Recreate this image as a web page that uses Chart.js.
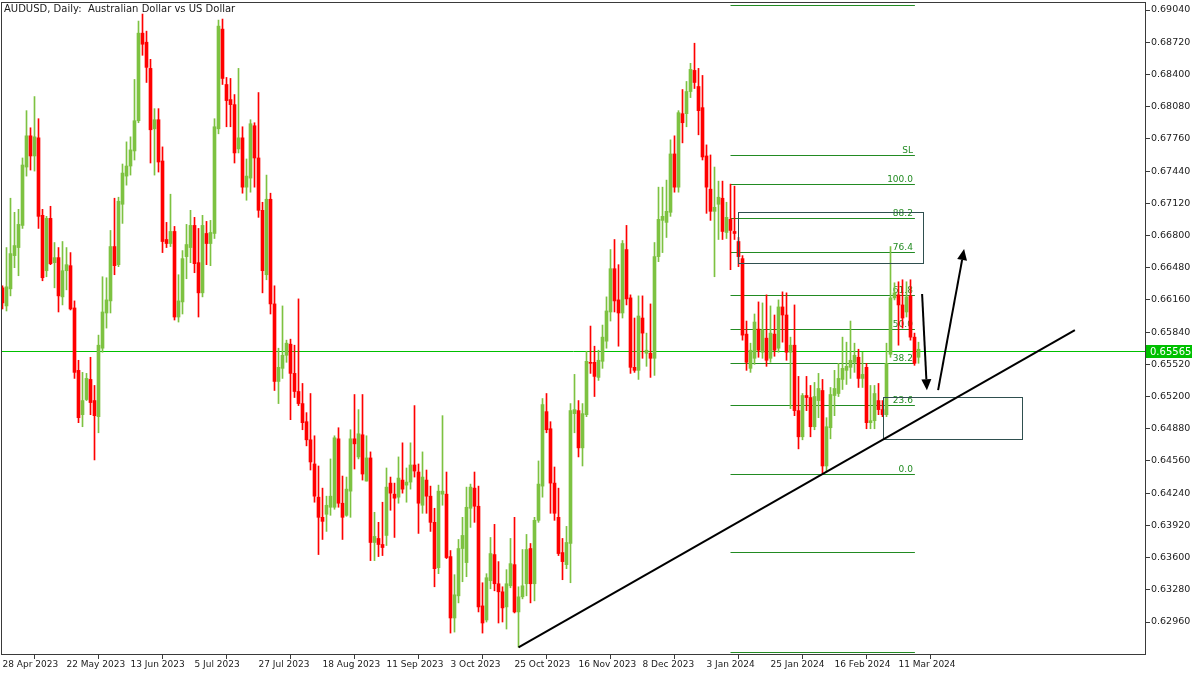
<!DOCTYPE html>
<html><head><meta charset="utf-8">
<script src="https://cdn.jsdelivr.net/npm/chart.js@4.4.1/dist/chart.umd.min.js"></script>
<style>html,body{margin:0;padding:0;background:#fff;overflow:hidden}canvas{display:block}</style>
</head><body>
<canvas id="c" width="1200" height="675"></canvas>
<script>
// ---- candle data (AUDUSD daily, bar 0 = 28 Apr 2023) ----
const opens = [
0.6628,0.6610,0.6627,0.6660,0.6668,0.6690,0.6748,0.6779,0.6759,0.6777,
0.6700,0.6645,0.6697,0.6653,0.6658,0.6619,0.6645,0.6650,0.6608,0.6546,
0.6502,0.6517,0.6537,0.6516,0.6500,0.6568,0.6603,0.6615,0.6669,0.6651,
0.6711,0.6739,0.6749,0.6764,0.6794,0.6881,0.6872,0.6846,0.6786,0.6795,
0.6754,0.6676,0.6672,0.6684,0.6599,0.6614,0.6659,0.6668,0.6690,0.6653,
0.6623,0.6682,0.6672,0.6682,0.6786,0.6885,0.6830,0.6815,0.6810,0.6766,
0.6777,0.6728,0.6737,0.6789,0.6757,0.6705,0.6641,0.6716,0.6612,0.6535,
0.6548,0.6561,0.6572,0.6543,0.6525,0.6513,0.6495,0.6477,0.6453,0.6420,
0.6400,0.6403,0.6410,0.6410,0.6478,0.6414,0.6402,0.6426,0.6478,0.6460,
0.6482,0.6436,0.6459,0.6375,0.6379,0.6373,0.6382,0.6434,0.6423,0.6420,
0.6437,0.6432,0.6435,0.6452,0.6445,0.6412,0.6437,0.6421,0.6395,0.6350,
0.6423,0.6423,0.6361,0.6300,0.6322,0.6369,0.6355,0.6409,0.6429,0.6411,
0.6312,0.6298,0.6337,0.6363,0.6334,0.6326,0.6311,0.6332,0.6353,0.6306,
0.6321,0.6334,0.6369,0.6334,0.6397,0.6431,0.6505,0.6488,0.6434,0.6400,
0.6365,0.6353,0.6374,0.6503,0.6506,0.6469,0.6502,0.6554,0.6554,0.6539,
0.6555,0.6575,0.6604,0.6647,0.6616,0.6603,0.6666,0.6618,0.6549,0.6546,
0.6598,0.6563,0.6563,0.6558,0.6659,0.6695,0.6693,0.6703,0.6761,0.6728,
0.6801,0.6801,0.6823,0.6844,0.6828,0.6807,0.6759,0.6726,0.6704,0.6711,
0.6717,0.6683,0.6696,0.6684,0.6674,0.6657,0.6582,0.6548,0.6558,0.6587,
0.6564,0.6578,0.6558,0.6582,0.6568,0.6609,0.6601,0.6564,0.6571,0.6506,
0.6480,0.6521,0.6519,0.6490,0.6516,0.6526,0.6451,0.6489,0.6521,0.6523,
0.6537,0.6546,0.6549,0.6554,0.6559,0.6538,0.6549,0.6494,0.6496,0.6516,
0.6507,0.6502,0.6562,0.6618,0.6621,0.6611,0.6604,0.6620,0.6579,0.6559];
const highs = [
0.6630,0.6668,0.6717,0.6703,0.6706,0.6757,0.6804,0.6787,0.6818,0.6796,
0.6706,0.6699,0.6709,0.6673,0.6668,0.6674,0.6668,0.6663,0.6615,0.6556,
0.6544,0.6543,0.6559,0.6531,0.6581,0.6639,0.6638,0.6685,0.6717,0.6718,
0.6751,0.6773,0.6778,0.6835,0.6893,0.6900,0.6883,0.6855,0.6806,0.6806,
0.6768,0.6693,0.6721,0.6689,0.6641,0.6665,0.6691,0.6705,0.6698,0.6687,
0.6700,0.6694,0.6695,0.6796,0.6894,0.6895,0.6837,0.6836,0.6820,0.6846,
0.6788,0.6756,0.6795,0.6792,0.6822,0.6713,0.6740,0.6722,0.6630,0.6568,
0.6610,0.6576,0.6577,0.6571,0.6617,0.6533,0.6504,0.6523,0.6481,0.6451,
0.6429,0.6421,0.6458,0.6481,0.6489,0.6441,0.6440,0.6487,0.6522,0.6507,
0.6522,0.6481,0.6465,0.6405,0.6395,0.6415,0.6449,0.6440,0.6434,0.6460,
0.6474,0.6449,0.6474,0.6511,0.6453,0.6465,0.6447,0.6431,0.6409,0.6432,
0.6501,0.6445,0.6367,0.6343,0.6378,0.6400,0.6430,0.6433,0.6445,0.6431,
0.6335,0.6344,0.6380,0.6393,0.6356,0.6331,0.6348,0.6379,0.6400,0.6331,
0.6368,0.6383,0.6374,0.6400,0.6456,0.6518,0.6523,0.6495,0.6450,0.6429,
0.6379,0.6391,0.6513,0.6542,0.6516,0.6513,0.6565,0.6590,0.6570,0.6566,
0.6591,0.6619,0.6666,0.6676,0.6651,0.6675,0.6690,0.6621,0.6598,0.6620,
0.6620,0.6583,0.6612,0.6673,0.6728,0.6728,0.6735,0.6775,0.6779,0.6804,
0.6825,0.6833,0.6851,0.6871,0.6846,0.6839,0.6770,0.6760,0.6748,0.6734,
0.6734,0.6713,0.6731,0.6729,0.6678,0.6660,0.6595,0.6573,0.6602,0.6614,
0.6613,0.6621,0.6610,0.6601,0.6616,0.6624,0.6623,0.6579,0.6611,0.6540,
0.6523,0.6540,0.6531,0.6534,0.6543,0.6537,0.6499,0.6529,0.6546,0.6553,
0.6579,0.6574,0.6595,0.6573,0.6567,0.6564,0.6553,0.6531,0.6531,0.6533,
0.6516,0.6573,0.6669,0.6633,0.6634,0.6636,0.6634,0.6636,0.6583,0.6574];
const lows = [
0.6607,0.6605,0.6620,0.6648,0.6640,0.6687,0.6739,0.6745,0.6744,0.6687,
0.6635,0.6639,0.6651,0.6628,0.6604,0.6611,0.6626,0.6606,0.6538,0.6494,
0.6490,0.6516,0.6502,0.6457,0.6484,0.6564,0.6588,0.6603,0.6641,0.6649,
0.6692,0.6730,0.6740,0.6755,0.6792,0.6859,0.6832,0.6752,0.6740,0.6743,
0.6663,0.6668,0.6669,0.6596,0.6594,0.6602,0.6637,0.6653,0.6643,0.6599,
0.6619,0.6651,0.6650,0.6677,0.6781,0.6830,0.6788,0.6788,0.6752,0.6762,
0.6722,0.6715,0.6723,0.6728,0.6698,0.6623,0.6636,0.6602,0.6526,0.6513,
0.6538,0.6554,0.6497,0.6519,0.6511,0.6487,0.6471,0.6447,0.6415,0.6363,
0.6378,0.6386,0.6402,0.6408,0.6410,0.6378,0.6401,0.6400,0.6448,0.6458,
0.6437,0.6436,0.6357,0.6357,0.6361,0.6362,0.6372,0.6407,0.6380,0.6414,
0.6424,0.6415,0.6428,0.6440,0.6384,0.6404,0.6404,0.6386,0.6331,0.6344,
0.6412,0.6359,0.6285,0.6286,0.6315,0.6336,0.6341,0.6390,0.6395,0.6306,
0.6285,0.6296,0.6329,0.6327,0.6295,0.6296,0.6289,0.6330,0.6305,0.6271,
0.6319,0.6322,0.6315,0.6317,0.6395,0.6420,0.6484,0.6404,0.6397,0.6362,
0.6338,0.6349,0.6335,0.6484,0.6460,0.6451,0.6500,0.6543,0.6520,0.6536,
0.6548,0.6568,0.6595,0.6604,0.6570,0.6598,0.6611,0.6543,0.6544,0.6537,
0.6558,0.6550,0.6539,0.6541,0.6654,0.6663,0.6678,0.6699,0.6723,0.6723,
0.6772,0.6788,0.6817,0.6826,0.6780,0.6755,0.6702,0.6695,0.6639,0.6676,
0.6676,0.6677,0.6646,0.6676,0.6649,0.6576,0.6546,0.6544,0.6552,0.6559,
0.6558,0.6550,0.6554,0.6560,0.6564,0.6574,0.6556,0.6508,0.6501,0.6468,
0.6477,0.6506,0.6480,0.6487,0.6499,0.6444,0.6445,0.6478,0.6501,0.6520,
0.6527,0.6532,0.6538,0.6544,0.6529,0.6529,0.6488,0.6488,0.6488,0.6502,
0.6500,0.6500,0.6559,0.6616,0.6571,0.6588,0.6599,0.6576,0.6551,0.6553];
const closes = [
0.6613,0.6629,0.6662,0.6670,0.6691,0.6750,0.6779,0.6759,0.6778,0.6699,
0.6638,0.6697,0.6652,0.6658,0.6620,0.6645,0.6651,0.6607,0.6544,0.6499,
0.6516,0.6538,0.6514,0.6501,0.6571,0.6604,0.6616,0.6669,0.6650,0.6714,
0.6742,0.6749,0.6765,0.6794,0.6881,0.6870,0.6847,0.6785,0.6795,0.6753,
0.6674,0.6672,0.6684,0.6599,0.6615,0.6657,0.6671,0.6690,0.6652,0.6623,
0.6690,0.6672,0.6683,0.6788,0.6888,0.6836,0.6814,0.6810,0.6762,0.6777,
0.6728,0.6739,0.6791,0.6757,0.6705,0.6645,0.6716,0.6612,0.6535,0.6549,
0.6561,0.6573,0.6543,0.6525,0.6513,0.6494,0.6477,0.6455,0.6421,0.6400,
0.6396,0.6412,0.6421,0.6479,0.6414,0.6400,0.6428,0.6478,0.6473,0.6483,
0.6443,0.6459,0.6375,0.6381,0.6373,0.6370,0.6430,0.6424,0.6419,0.6439,
0.6428,0.6435,0.6452,0.6446,0.6414,0.6440,0.6421,0.6395,0.6349,0.6426,
0.6426,0.6360,0.6300,0.6323,0.6369,0.6382,0.6410,0.6430,0.6411,0.6311,
0.6295,0.6340,0.6364,0.6334,0.6326,0.6310,0.6334,0.6354,0.6306,0.6321,
0.6332,0.6368,0.6334,0.6397,0.6433,0.6512,0.6487,0.6434,0.6404,0.6364,
0.6356,0.6375,0.6506,0.6507,0.6469,0.6503,0.6555,0.6553,0.6540,0.6556,
0.6579,0.6605,0.6647,0.6615,0.6603,0.6672,0.6617,0.6549,0.6546,0.6600,
0.6583,0.6566,0.6558,0.6659,0.6696,0.6699,0.6704,0.6761,0.6728,0.6802,
0.6792,0.6823,0.6845,0.6832,0.6804,0.6758,0.6728,0.6704,0.6708,0.6718,
0.6684,0.6698,0.6685,0.6682,0.6659,0.6581,0.6554,0.6566,0.6594,0.6566,
0.6586,0.6556,0.6583,0.6566,0.6609,0.6601,0.6564,0.6571,0.6506,0.6480,
0.6521,0.6519,0.6490,0.6520,0.6528,0.6451,0.6490,0.6522,0.6528,0.6538,
0.6548,0.6550,0.6556,0.6561,0.6538,0.6542,0.6494,0.6496,0.6523,0.6507,
0.6502,0.6553,0.6618,0.6623,0.6611,0.6598,0.6619,0.6579,0.6553,0.6567];

// ---- axis labels ----
const dateTickBars = [0,16,32,48,64,80,96,112,128,144,160,176,192,208,224];
const dateTickLabels = ['28 Apr 2023','22 May 2023','13 Jun 2023','5 Jul 2023','27 Jul 2023','18 Aug 2023',
  '11 Sep 2023','3 Oct 2023','25 Oct 2023','16 Nov 2023','8 Dec 2023','3 Jan 2024','25 Jan 2024','16 Feb 2024','11 Mar 2024'];
const priceTicks = [0.62960,0.63280,0.63600,0.63920,0.64240,0.64560,0.64880,0.65200,0.65520,0.65840,
  0.66160,0.66480,0.66800,0.67120,0.67440,0.67760,0.68080,0.68400,0.68720,0.69040];

// ---- drawn objects (bar index, price) ----
const fibHigh = 0.67311, fibLow = 0.64435;
const fibLevels = [161.8, 110.0, 100.0, 88.2, 76.4, 61.8, 50.0, 38.2, 23.6, 0.0, -27.0, -61.8];
const fibLabels = ['', 'SL', '100.0', '88.2', '76.4', '61.8', '50.0', '38.2', '23.6', '0.0', '', ''];
const fibFromBar = 182, fibToBar = 228.1;
const rectA = [183.9, 0.67036, 230.1, 0.66523];
const rectB = [220.0, 0.65197, 254.9, 0.64783];
const trendLine = [129, 0.62709, 268.1, 0.65860];
const arrowDown = [229.9, 0.66218, 231.1, 0.65263];
const arrowUp = [233.9, 0.65263, 240.4, 0.66665];
const bidLinePrice = 0.65650;
const bidLabel = '0.65565';
const titleText = 'AUDUSD, Daily:  Australian Dollar vs US Dollar';

const xMin = -0.375, xMax = 285.875;
const yMin = 0.626322, yMax = 0.691195;

const BULL = '#7DC241', BEAR = '#FF0000';
const FIB = '#228B22', RECT = '#2F4F4F', BID = '#00C000';
const FONT = '"DejaVu Sans", sans-serif';
const candleColor = i => closes[i] >= opens[i] ? BULL : BEAR;

function arrow(ctx, x1, y1, x2, y2) {
  const ang = Math.atan2(y2 - y1, x2 - x1), L = 11, W = 5;
  const bx = x2 - L * Math.cos(ang), by = y2 - L * Math.sin(ang);
  ctx.beginPath(); ctx.moveTo(x1, y1); ctx.lineTo(bx, by); ctx.stroke();
  ctx.beginPath(); ctx.moveTo(x2, y2);
  ctx.lineTo(bx + W * Math.sin(ang), by - W * Math.cos(ang));
  ctx.lineTo(bx - W * Math.sin(ang), by + W * Math.cos(ang));
  ctx.closePath(); ctx.fill();
}

const overlay = {
  id: 'overlay',
  beforeDatasetsDraw(chart) {
    const {ctx, chartArea: a, scales: {x, y}} = chart;
    ctx.save();
    ctx.beginPath(); ctx.rect(a.left, a.top, a.right - a.left, a.bottom - a.top); ctx.clip();
    const x1 = x.getPixelForValue(fibFromBar), x2 = x.getPixelForValue(fibToBar);
    ctx.strokeStyle = FIB; ctx.fillStyle = FIB; ctx.lineWidth = 1;
    ctx.font = '9px ' + FONT; ctx.textAlign = 'right'; ctx.textBaseline = 'alphabetic';
    fibLevels.forEach((lv, i) => {
      const yy = Math.round(y.getPixelForValue(fibLow + (fibHigh - fibLow) * lv / 100)) + 0.5;
      ctx.beginPath(); ctx.moveTo(x1, yy); ctx.lineTo(x2, yy); ctx.stroke();
      if (fibLabels[i]) ctx.fillText(fibLabels[i], x2 - 2, yy - 3);
    });
    const by = Math.round(y.getPixelForValue(bidLinePrice)) + 0.5;
    ctx.strokeStyle = BID;
    ctx.beginPath(); ctx.moveTo(a.left, by); ctx.lineTo(a.right, by); ctx.stroke();
    ctx.restore();
  },
  afterDatasetsDraw(chart) {
    const {ctx, chartArea: a, scales: {x, y}} = chart;
    ctx.save();
    ctx.beginPath(); ctx.rect(a.left, a.top, a.right - a.left, a.bottom - a.top); ctx.clip();
    ctx.strokeStyle = RECT; ctx.lineWidth = 1;
    [rectA, rectB].forEach(r => {
      const l = Math.round(x.getPixelForValue(r[0])) + 0.5, t = Math.round(y.getPixelForValue(r[1])) + 0.5;
      const rr = Math.round(x.getPixelForValue(r[2])) + 0.5, b = Math.round(y.getPixelForValue(r[3])) + 0.5;
      ctx.strokeRect(l, t, rr - l, b - t);
    });
    ctx.strokeStyle = '#000'; ctx.fillStyle = '#000'; ctx.lineWidth = 2;
    ctx.beginPath();
    ctx.moveTo(x.getPixelForValue(trendLine[0]), y.getPixelForValue(trendLine[1]));
    ctx.lineTo(x.getPixelForValue(trendLine[2]), y.getPixelForValue(trendLine[3]));
    ctx.stroke();
    [arrowDown, arrowUp].forEach(ar => arrow(ctx,
      x.getPixelForValue(ar[0]), y.getPixelForValue(ar[1]),
      x.getPixelForValue(ar[2]), y.getPixelForValue(ar[3])));
    ctx.restore();
  },
  afterDraw(chart) {
    const {ctx, chartArea: a, scales: {y}} = chart;
    ctx.save();
    ctx.strokeStyle = '#3a3a3a'; ctx.lineWidth = 1;
    ctx.strokeRect(a.left + 0.5, a.top + 0.5, a.right - a.left - 1, a.bottom - a.top - 1);
    ctx.font = '10px ' + FONT; ctx.fillStyle = '#1a1a1a';
    ctx.textAlign = 'left'; ctx.textBaseline = 'middle';
    ctx.fillText(titleText, a.left + 3, a.top + 7);
    const by = Math.round(y.getPixelForValue(bidLinePrice));
    ctx.fillStyle = BID; ctx.fillRect(a.right, by - 6, 46, 13);
    ctx.fillStyle = '#fff'; ctx.fillText(bidLabel, a.right + 4, by + 1);
    ctx.restore();
  }
};

Chart.defaults.font.family = FONT;
new Chart(document.getElementById('c'), {
  type: 'bar',
  data: {
    datasets: [
      { label: 'wick', data: lows.map((l, i) => ({x: i, y: [l, highs[i]]})),
        backgroundColor: c => candleColor(c.dataIndex), barThickness: 1, grouped: false, borderWidth: 0, order: 2 },
      { label: 'body', data: opens.map((o, i) => ({x: i, y: [o, closes[i]]})),
        backgroundColor: c => candleColor(c.dataIndex), barThickness: 3, grouped: false, borderWidth: 0, minBarLength: 1, order: 1 }
    ]
  },
  options: {
    responsive: false, animation: false, devicePixelRatio: 1,
    layout: { padding: { left: 1, top: 2, right: 0, bottom: 0 } },
    plugins: { legend: { display: false }, tooltip: { enabled: false } },
    scales: {
      x: {
        type: 'linear', min: xMin, max: xMax, offset: false,
        grid: { display: true, drawOnChartArea: false, tickLength: 4, color: '#3a3a3a' },
        border: { display: false },
        ticks: { autoSkip: false, maxRotation: 0, align: 'start', padding: 0, color: '#1a1a1a', font: { size: 9 },
          callback: v => { const i = dateTickBars.indexOf(v); return i >= 0 ? dateTickLabels[i] : ''; } },
        afterBuildTicks: s => { s.ticks = dateTickBars.map(v => ({value: v})); },
        afterFit: s => { s.height = 20; s.paddingLeft = 0; s.paddingRight = 0; s.paddingTop = 0; s.paddingBottom = 0; }
      },
      y: {
        type: 'linear', position: 'right', min: yMin, max: yMax,
        grid: { display: true, drawOnChartArea: false, tickLength: 4, color: '#3a3a3a' },
        border: { display: false },
        ticks: { padding: 1, color: '#1a1a1a', font: { size: 9.5 }, callback: v => v.toFixed(5) },
        afterBuildTicks: s => { s.ticks = priceTicks.map(v => ({value: v})); },
        afterFit: s => { s.width = 54; s.paddingTop = 0; s.paddingBottom = 0; s.paddingLeft = 0; s.paddingRight = 0; }
      }
    }
  },
  plugins: [overlay]
});
</script>
</body></html>
